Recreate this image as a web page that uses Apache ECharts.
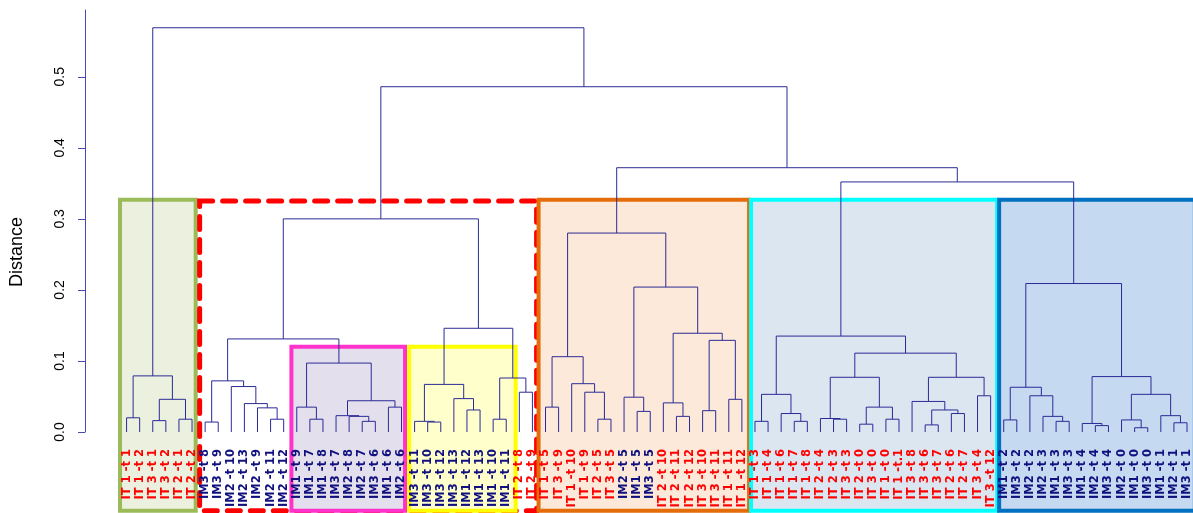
<!DOCTYPE html>
<html lang="en">
<head>
<meta charset="utf-8">
<title>Dendrogram</title>
<script src="https://cdn.jsdelivr.net/npm/echarts@6/dist/echarts.min.js"></script>
<style>
    html, body { margin: 0; padding: 0; background: #fff; }
    #chart { width: 1193px; height: 513px; }
</style>
</head>
<body>
<div id="chart"></div>
<script>
// leaves, left to right
var leafLabels = [
    'IT 1 -t 1', 'IT 1 -t 2', 'IT 3 -t 1', 'IT 3 -t 2', 'IT 2 -t 1', 'IT 2 -t 2',
    'IM3 -t 8', 'IM3 -t 9', 'IM2 -t 10', 'IM2 -t 13', 'IM2 -t 9', 'IM2 -t 11', 'IM2 -t 12',
    'IM1 -t 9', 'IM1 -t 7', 'IM1 -t 8', 'IM3 -t 7', 'IM2 -t 8', 'IM2 -t 7', 'IM3 -t 6', 'IM1 -t 6', 'IM2 -t 6',
    'IM3 -t 11', 'IM3 -t 10', 'IM3 -t 12', 'IM3 -t 13', 'IM1 -t 12', 'IM1 -t 13', 'IM1 -t 10', 'IM1 -t 11',
    'IT 2 -t 8', 'IT 2 -t 9',
    'IT 1 -t 5', 'IT 3 -t 9', 'IT 1 -t 10', 'IT 1 -t 9', 'IT 2 -t 5', 'IT 3 -t 5', 'IM2 -t 5', 'IM1 -t 5',
    'IM3 -t 5', 'IT 2 -t 10', 'IT 2 -t 11', 'IT 2 -t 12', 'IT 3 -t 10', 'IT 3 -t 11', 'IT 1 -t 11', 'IT 1 -t 12',
    'IT 1 -t 3', 'IT 1 -t 4', 'IT 1 -t 6', 'IT 1 -t 7', 'IT 1 -t 8', 'IT 2 -t 4', 'IT 2 -t 3', 'IT 3 -t 3',
    'IT 2 -t 0', 'IT 3 -t 0', 'IT 1 -t 0', 'IT 1 -t.1', 'IT 3 -t 8', 'IT 3 -t 6', 'IT 3 -t 7', 'IT 2 -t 6',
    'IT 2 -t 7', 'IT 3 -t 4', 'IT 3 -t 12',
    'IM1 -t 2', 'IM3 -t 2', 'IM2 -t 2', 'IM2 -t 3', 'IM1 -t 3', 'IM3 -t 3', 'IM1 -t 4', 'IM2 -t 4',
    'IM3 -t 4', 'IM2 -t 0', 'IM1 -t 0', 'IM3 -t 0', 'IM1 -t 1', 'IM2 -t 1', 'IM3 -t 1'
];

// merges: [id, left, right, distance]; a number is a leaf index, a string an earlier merge
var merges = [
    ['a1', 0, 1, 0.020], ['a2', 2, 3, 0.016], ['a3', 4, 5, 0.018],
    ['a4', 'a2', 'a3', 0.046], ['A', 'a1', 'a4', 0.079],

    ['b1', 6, 7, 0.014], ['b2', 11, 12, 0.018], ['b3', 10, 'b2', 0.034],
    ['b4', 9, 'b3', 0.040], ['b5', 8, 'b4', 0.064], ['B', 'b1', 'b5', 0.072],

    ['p1', 14, 15, 0.018], ['p2', 13, 'p1', 0.035], ['p3', 18, 19, 0.015],
    ['p4', 17, 'p3', 0.022], ['p5', 16, 'p4', 0.023], ['p6', 20, 21, 0.035],
    ['p7', 'p5', 'p6', 0.044], ['P', 'p2', 'p7', 0.097], ['BP', 'B', 'P', 0.131],

    ['y1', 23, 24, 0.014], ['y2', 22, 'y1', 0.015], ['y3', 26, 27, 0.031],
    ['y4', 25, 'y3', 0.047], ['y5', 'y2', 'y4', 0.067], ['y6', 28, 29, 0.018],
    ['y7', 30, 31, 0.056], ['y8', 'y6', 'y7', 0.076], ['Y', 'y5', 'y8', 0.146],
    ['R', 'BP', 'Y', 0.300],

    ['o1', 32, 33, 0.035], ['o2', 36, 37, 0.018], ['o3', 35, 'o2', 0.056],
    ['o4', 34, 'o3', 0.068], ['o5', 'o1', 'o4', 0.106], ['o6', 39, 40, 0.029],
    ['o7', 38, 'o6', 0.049], ['o8', 42, 43, 0.022], ['o9', 41, 'o8', 0.041],
    ['o10', 44, 45, 0.030], ['o11', 46, 47, 0.046], ['o12', 'o10', 'o11', 0.129],
    ['o13', 'o9', 'o12', 0.139], ['o14', 'o7', 'o13', 0.204], ['O', 'o5', 'o14', 0.280],

    ['c1', 48, 49, 0.015], ['c2', 51, 52, 0.015], ['c3', 50, 'c2', 0.026],
    ['c4', 'c1', 'c3', 0.053], ['c5', 54, 55, 0.018], ['c6', 53, 'c5', 0.019],
    ['c7', 56, 57, 0.011], ['c8', 58, 59, 0.018], ['c9', 'c7', 'c8', 0.035],
    ['c10', 'c6', 'c9', 0.077], ['c11', 61, 62, 0.010], ['c12', 63, 64, 0.026],
    ['c13', 'c11', 'c12', 0.031], ['c14', 60, 'c13', 0.043], ['c15', 65, 66, 0.051],
    ['c16', 'c14', 'c15', 0.077], ['c17', 'c10', 'c16', 0.111], ['C', 'c4', 'c17', 0.135],

    ['d1', 67, 68, 0.017], ['d2', 71, 72, 0.015], ['d3', 70, 'd2', 0.022],
    ['d4', 69, 'd3', 0.051], ['d5', 'd1', 'd4', 0.063], ['d6', 74, 75, 0.009],
    ['d7', 73, 'd6', 0.012], ['d8', 77, 78, 0.006], ['d9', 76, 'd8', 0.017],
    ['d10', 80, 81, 0.013], ['d11', 79, 'd10', 0.023], ['d12', 'd9', 'd11', 0.053],
    ['d13', 'd7', 'd12', 0.078], ['D', 'd5', 'd13', 0.209],

    ['CD', 'C', 'D', 0.352], ['OCD', 'O', 'CD', 0.372],
    ['ROCD', 'R', 'OCD', 0.486], ['root', 'A', 'ROCD', 0.569]
];

// highlighted groups (leaf units / distance)
var boxFrom = [-0.5, 5.58, 12.59, 21.58, 31.47, 47.7, 66.65];
var boxTo   = [5.28, 31.32, 21.27, 29.72, 47.55, 66.5, 81.6];
var boxTop  = [0.327, 0.325, 0.120, 0.120, 0.327, 0.327, 0.327];
var boxBase = -0.111;

var yTicks = [0, 0.1, 0.2, 0.3, 0.4, 0.5];

var boxStyles = [
    { fill: '#ebf1de', stroke: '#9bbb59', lineWidth: 4 },
    { fill: '#ffffff', stroke: '#ff0000', lineWidth: 5, lineDash: [13, 10] },
    { fill: '#e4dfec', stroke: '#ff33cc', lineWidth: 4 },
    { fill: '#ffffcc', stroke: '#ffff00', lineWidth: 4 },
    { fill: '#fde9d9', stroke: '#e46c0a', lineWidth: 4 },
    { fill: '#dce6f1', stroke: '#00ffff', lineWidth: 4 },
    { fill: '#c5d9f1', stroke: '#0070c0', lineWidth: 4 }
];

var labelFont = 'DejaVu Sans, Arial, sans-serif';

// turn the merge list into elbow links
var pos = {}, hgt = {};
var links = [];
merges.forEach(function (m) {
    function px(r) { return typeof r === 'number' ? r : pos[r]; }
    function ph(r) { return typeof r === 'number' ? 0 : hgt[r]; }
    var lx = px(m[1]), rx = px(m[2]);
    links.push([lx, ph(m[1]), rx, ph(m[2]), m[3]]);
    pos[m[0]] = (lx + rx) / 2;
    hgt[m[0]] = m[3];
});

var boxData = boxFrom.map(function (f, i) { return [f, boxTo[i], boxTop[i], boxBase, i]; });
var leafIdx = leafLabels.map(function (l, i) { return i; });

var myChart = echarts.init(document.getElementById('chart'));
var option = {
    animation: false,
    grid: { left: 85, right: 0, top: 10, bottom: 81 },
    xAxis: {
        type: 'value',
        min: -3.176,
        max: 81.21,
        z: 10,
        axisLine: { show: false, onZero: false },
        axisTick: { show: false },
        splitLine: { show: false },
        axisLabel: {
            customValues: leafIdx,
            rotate: 90,
            margin: 17,
            formatter: function (v) {
                var lab = leafLabels[Math.round(v)];
                return (lab.indexOf('IT') === 0 ? '{r|' : '{b|') + lab + '}';
            },
            rich: {
                r: { color: '#ff0000', fontSize: 11.5, fontWeight: 'bold', fontFamily: labelFont },
                b: { color: '#10107f', fontSize: 11.5, fontWeight: 'bold', fontFamily: labelFont }
            }
        }
    },
    yAxis: {
        type: 'value',
        min: 0,
        max: 0.594,
        splitLine: { show: false },
        axisLine: { show: true, onZero: false, lineStyle: { color: '#4848b4', width: 1 } },
        axisTick: { show: true, length: 7, customValues: yTicks, lineStyle: { color: '#4848b4' } },
        axisLabel: {
            customValues: yTicks,
            rotate: 90,
            margin: 18,
            color: '#000',
            fontSize: 14,
            fontFamily: 'Liberation Sans, Arial, sans-serif',
            formatter: function (v) { return v.toFixed(1); }
        }
    },
    graphic: [{
        type: 'text',
        x: 17,
        y: 252,
        rotation: Math.PI / 2,
        style: {
            text: 'Distance',
            fill: '#000',
            font: '18px Liberation Sans, Arial, sans-serif',
            align: 'center',
            verticalAlign: 'middle'
        }
    }],
    series: [{
        type: 'custom',
        name: 'groups',
        clip: false,
        z: 1,
        data: boxData,
        encode: { x: [0, 1], y: [2, 3] },
        renderItem: function (params, api) {
            var p0 = api.coord([api.value(0), api.value(2)]);
            var p1 = api.coord([api.value(1), api.value(3)]);
            var s = boxStyles[api.value(4)];
            return {
                type: 'rect',
                shape: { x: p0[0], y: p0[1], width: p1[0] - p0[0], height: p1[1] - p0[1] },
                style: { fill: s.fill, stroke: s.stroke, lineWidth: s.lineWidth, lineDash: s.lineDash || null, lineCap: 'round' }
            };
        }
    }, {
        type: 'custom',
        name: 'tree',
        clip: false,
        z: 3,
        data: links,
        encode: { x: [0, 2], y: [1, 3, 4] },
        renderItem: function (params, api) {
            var lx = api.value(0), lh = api.value(1), rx = api.value(2), rh = api.value(3), h = api.value(4);
            return {
                type: 'polyline',
                shape: { points: [api.coord([lx, lh]), api.coord([lx, h]), api.coord([rx, h]), api.coord([rx, rh])] },
                style: { stroke: '#2b2b96', fill: null, lineWidth: 1 }
            };
        }
    }]
};
myChart.setOption(option);
</script>
</body>
</html>
